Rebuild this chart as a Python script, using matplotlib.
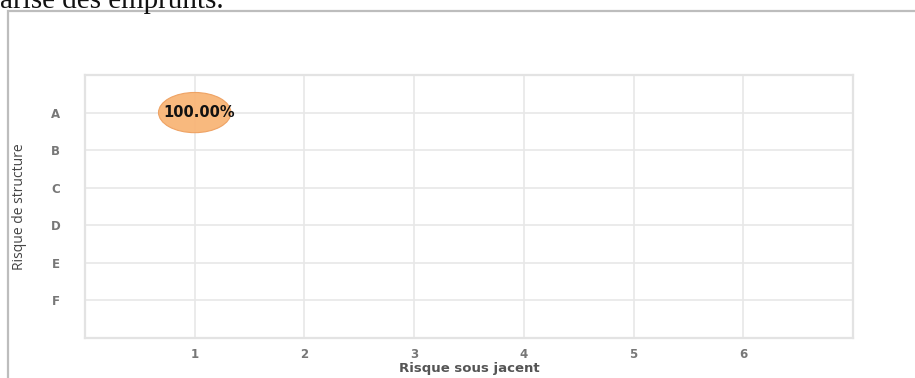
import numpy as np
import matplotlib.pyplot as plt
from matplotlib.patches import Ellipse, Rectangle

# data
x_ticks = [1, 2, 3, 4, 5, 6]
y_cats = ['A', 'B', 'C', 'D', 'E', 'F']
bubble_x = [1]
bubble_y = ['A']
bubble_pct = [100.0]

W, H = 915, 378
fig = plt.figure(figsize=(W / 100, H / 100), dpi=100)

# frame around the embedded chart
fig.patches.append(Rectangle((8 / W, -0.05), 1.2, 1 - 11 / H + 0.05,
                             transform=fig.transFigure, fill=False,
                             edgecolor='#bdbdbd', linewidth=1.6))
# clipped caption line above
fig.text(0.0, 1 - 8 / H, 'arise des emprunts.', family='Liberation Serif',
         fontsize=21, va='baseline', ha='left', color='#111111')

ax = fig.add_axes([85 / W, 1 - 338 / H, (853 - 85) / W, (338 - 75) / H])
ax.set_xlim(0, 7)
ax.set_ylim(0, 7)

ypos = {c: 6 - i for i, c in enumerate(y_cats)}
ax.set_xticks(x_ticks)
ax.set_yticks([ypos[c] for c in y_cats])
ax.set_yticklabels(y_cats)
ax.grid(True, color='#e8e8e8', linewidth=1.2)
ax.set_axisbelow(True)
for s in ax.spines.values():
    s.set_color('#e3e3e3')
    s.set_linewidth(1.6)
ax.tick_params(length=0, colors='#777777', labelsize=8.5)
for lab in ax.get_xticklabels() + ax.get_yticklabels():
    lab.set_fontweight('bold')
ax.tick_params(axis='x', pad=7)
for lab in ax.get_yticklabels():
    lab.set_horizontalalignment('center')
ax.tick_params(axis='y', pad=21)

for bx, by, p in zip(bubble_x, bubble_y, bubble_pct):
    yy = ypos[by]
    ax.add_patch(Ellipse((bx, yy), 0.66, 1.07, facecolor='#f8b577',
                         edgecolor='#eea060', linewidth=0.8, alpha=0.95, zorder=3))
    ax.text(bx + 0.04, yy, f'{p:.2f}%', ha='center', va='center', fontsize=10.5,
            fontweight='bold', color='#111111', zorder=4)

ax.set_xlabel('Risque sous jacent', fontsize=9.5, fontweight='bold',
              color='#555555', labelpad=1)
ax.set_ylabel('Risque de structure', family='Open Sans', fontsize=10,
              color='#444444', labelpad=17)

fig.savefig('out.png', dpi=100)
